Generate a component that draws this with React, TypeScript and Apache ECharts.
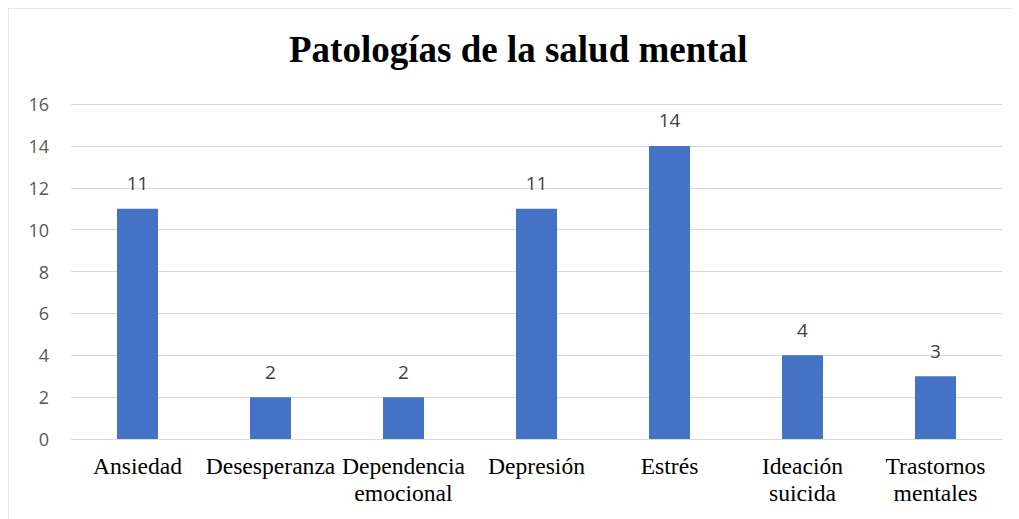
import React, { useEffect, useRef } from "react";
import * as echarts from "echarts";

const categories = [
  "Ansiedad",
  "Desesperanza",
  "Dependencia\nemocional",
  "Depresión",
  "Estrés",
  "Ideación\nsuicida",
  "Trastornos\nmentales",
];
const values = [11, 2, 2, 11, 14, 4, 3];
const titleText = "Patologías de la salud mental";
const yMin = 0;
const yMax = 16;
const yInterval = 2;

export default function App() {
  const ref = useRef<HTMLDivElement>(null);
  useEffect(() => {
    if (!ref.current) return;
    const chart = echarts.init(ref.current, null, { renderer: "svg" });
    chart.setOption({
      animation: false,
      backgroundColor: "#ffffff",
      title: {
        text: titleText,
        left: 278,
        top: 20,
        textStyle: {
          fontFamily: "Liberation Serif",
          fontWeight: "bold",
          fontSize: 37,
          color: "#000000",
        },
      },
      graphic: [
        {
          type: "line",
          shape: { x1: 0, y1: 1.5, x2: 1019, y2: 1.5 },
          style: { stroke: "#d0d0d0", lineWidth: 2 },
          silent: true,
        },
        {
          type: "line",
          shape: { x1: 1.5, y1: 0, x2: 1.5, y2: 520 },
          style: { stroke: "#d0d0d0", lineWidth: 2 },
          silent: true,
        },
      ],
      grid: { left: 65, right: 23, top: 98, bottom: 80, containLabel: false },
      xAxis: {
        type: "category",
        data: categories,
        axisLine: { lineStyle: { color: "#d9d9d9", width: 1 } },
        axisTick: { show: false },
        axisLabel: {
          interval: 0,
          margin: 13,
          fontFamily: "Liberation Serif",
          fontSize: 23.6,
          lineHeight: 27,
          color: "#000000",
        },
      },
      yAxis: {
        type: "value",
        min: yMin,
        max: yMax,
        interval: yInterval,
        axisLine: { show: false },
        axisTick: { show: false },
        splitLine: { lineStyle: { color: "#d9d9d9", width: 1 } },
        axisLabel: {
          margin: 22,
          fontFamily: "Open Sans",
          fontSize: 18,
          color: "#595959",
        },
      },
      series: [
        {
          type: "bar",
          data: values,
          barWidth: 41,
          itemStyle: { color: "#4472c4" },
          label: {
            show: true,
            position: "top",
            distance: 16,
            fontFamily: "Open Sans",
            fontSize: 19,
            color: "#404040",
          },
        },
      ],
    });
    return () => chart.dispose();
  }, []);
  return (
    <div
      ref={ref}
      style={{ marginLeft: -2, marginTop: -2, width: 1019, height: 513 }}
    />
  );
}
